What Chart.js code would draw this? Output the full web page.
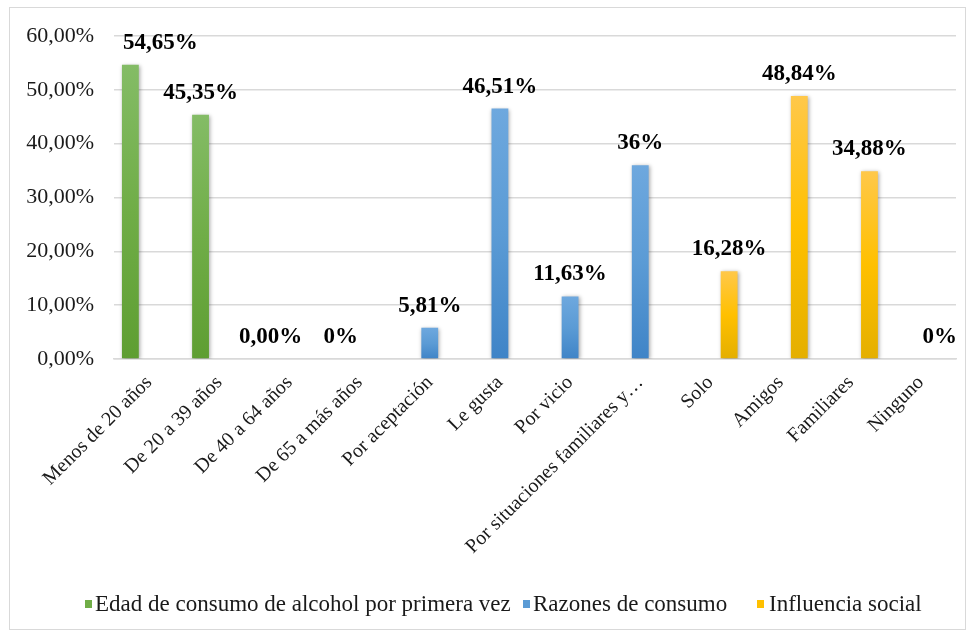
<!DOCTYPE html>
<html>
<head>
<meta charset="utf-8">
<script src="https://cdn.jsdelivr.net/npm/chart.js@4.4.1/dist/chart.umd.min.js"></script>
<style>
  html, body { margin: 0; padding: 0; background: #ffffff; }
  #frame {
    position: absolute; left: 9px; top: 7px;
    width: 957px; height: 623px;
    box-sizing: border-box; border: 1px solid #d9d9d9; background: #ffffff;
  }
  #chart { display: block; }
</style>
</head>
<body>
<div id="frame"><canvas id="chart" width="955" height="621"></canvas></div>
<script>
// Categories along the x axis
const categories = [
  'Menos de 20 años', 'De 20 a 39 años', 'De 40 a 64 años', 'De 65 a más años',
  'Por aceptación', 'Le gusta', 'Por vicio', 'Por situaciones familiares y…',
  'Solo', 'Amigos', 'Familiares', 'Ninguno'
];

// Series names
const seriesNames = [
  'Edad de consumo de alcohol por primera vez',
  'Razones de consumo',
  'Influencia social'
];

// Percentages per series (null where the category belongs to another series)
const edadValues       = [54.65, 45.35, 0, 0, null, null, null, null, null, null, null, null];
const razonesValues    = [null, null, null, null, 5.81, 46.51, 11.63, 36, null, null, null, null];
const influenciaValues = [null, null, null, null, null, null, null, null, 16.28, 48.84, 34.88, 0];

// Value labels printed above each bar
const valueLabels = ['54,65%', '45,35%', '0,00%', '0%', '5,81%', '46,51%', '11,63%', '36%', '16,28%', '48,84%', '34,88%', '0%'];

// Y axis range
const yMin = 0, yMax = 60, yStep = 10;

const FONT = '"Liberation Serif", "Times New Roman", serif';
const TEXT = '#1a1a1a';

// Gradient stops (top, middle, bottom) per series
const palettes = [
  ['#84bc66', '#70ad47', '#5e9e32'],
  ['#6ea8de', '#5b9bd5', '#3f84c7'],
  ['#ffc84a', '#ffc000', '#e4af00']
];

function barGradient(ctx, stops) {
  const chart = ctx.chart;
  const y = chart.scales && chart.scales.y;
  if (ctx.type !== 'data' || ctx.raw == null || !y) return stops[1];
  const top = y.getPixelForValue(ctx.raw);
  const bottom = y.getPixelForValue(0);
  if (!isFinite(top) || !isFinite(bottom) || bottom - top < 1) return stops[1];
  const g = chart.ctx.createLinearGradient(0, top, 0, bottom);
  g.addColorStop(0, stops[0]);
  g.addColorStop(0.5, stops[1]);
  g.addColorStop(1, stops[2]);
  return g;
}

function makeDataset(label, values, stops) {
  return {
    label: label,
    data: values,
    backgroundColor: ctx => barGradient(ctx, stops),
    legendColor: stops[1],
    borderWidth: 0,
    categoryPercentage: 0.8,
    barPercentage: 0.9
  };
}

// Soft drop shadow under the bars
const barShadow = {
  id: 'barShadow',
  beforeDatasetDraw(chart) {
    const c = chart.ctx;
    c.save();
    c.shadowColor = 'rgba(0,0,0,0.35)';
    c.shadowBlur = 4;
    c.shadowOffsetX = 1;
    c.shadowOffsetY = 1;
  },
  afterDatasetDraw(chart) {
    chart.ctx.restore();
  }
};

// Bold value labels above the bars
const valueLabelPlugin = {
  id: 'valueLabels',
  afterDatasetsDraw(chart, args, opts) {
    const c = chart.ctx;
    const shift = (opts && opts.shiftX) || {};
    c.save();
    c.font = 'bold 23px ' + FONT;
    c.fillStyle = '#000000';
    c.textAlign = 'center';
    c.textBaseline = 'alphabetic';
    chart.data.datasets.forEach((ds, di) => {
      const meta = chart.getDatasetMeta(di);
      meta.data.forEach((bar, i) => {
        if (ds.data[i] == null) return;
        c.fillText(valueLabels[i], bar.x + (shift[i] || 0), bar.y - 16);
      });
    });
    c.restore();
  }
};

// Legend row along the bottom
const bottomLegend = {
  id: 'bottomLegend',
  afterDraw(chart) {
    const c = chart.ctx;
    c.save();
    c.font = '23px ' + FONT;
    c.textBaseline = 'alphabetic';
    const boxX = [75, 513, 747];
    const textX = [85, 523, 759];
    const baseline = 603;
    chart.data.datasets.forEach((ds, i) => {
      c.fillStyle = ds.legendColor;
      c.fillRect(boxX[i], baseline - 11, 7, 8);
      c.fillStyle = TEXT;
      c.fillText(ds.label, textX[i], baseline);
    });
    c.restore();
  }
};

new Chart(document.getElementById('chart'), {
  type: 'bar',
  data: {
    labels: categories,
    datasets: [
      makeDataset(seriesNames[0], edadValues, palettes[0]),
      makeDataset(seriesNames[1], razonesValues, palettes[1]),
      makeDataset(seriesNames[2], influenciaValues, palettes[2])
    ]
  },
  options: {
    responsive: false,
    animation: false,
    layout: { padding: { left: 0, right: 9, top: 28, bottom: 0 } },
    plugins: {
      legend: { display: false },
      tooltip: { enabled: false },
      valueLabels: { shiftX: { 0: 30 } }
    },
    scales: {
      x: {
        grid: { display: false, drawTicks: false },
        border: { display: true, color: '#d9d9d9', width: 1.5 },
        ticks: {
          font: { family: FONT, size: 20 },
          color: TEXT,
          minRotation: 45,
          maxRotation: 45,
          autoSkip: false,
          padding: 12
        },
        afterFit(scale) { scale.height = 270; }
      },
      y: {
        min: yMin,
        max: yMax,
        grid: { color: '#d9d9d9', lineWidth: 1.5, drawTicks: false },
        border: { display: false },
        ticks: {
          stepSize: yStep,
          font: { family: FONT, size: 22 },
          color: TEXT,
          padding: 20,
          callback: v => v.toFixed(2).replace('.', ',') + '%'
        },
        afterFit(scale) {
          scale.width = 104;
          scale.paddingTop = 12;
          scale.paddingBottom = 12;
        }
      }
    }
  },
  plugins: [barShadow, valueLabelPlugin, bottomLegend]
});
</script>
</body>
</html>
